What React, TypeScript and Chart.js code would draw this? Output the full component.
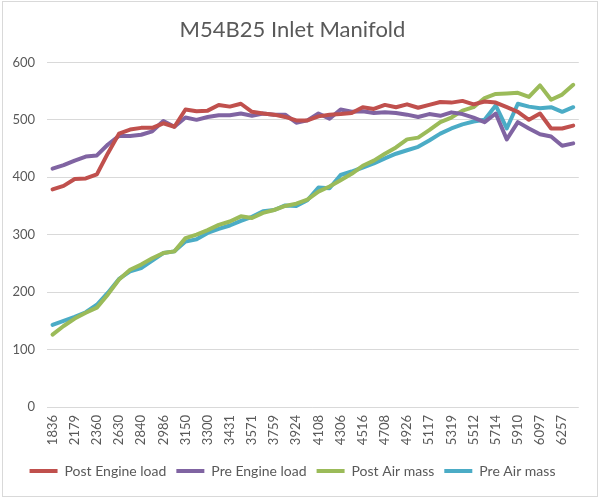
import React, { useEffect, useRef } from 'react';
import { Chart, registerables } from 'chart.js';

Chart.register(...registerables);

// RPM categories (every other one is shown on the axis)
const rpmLabels = [
  '1836', '2010', '2179', '2270', '2360', '2495', '2630', '2735', '2840', '2915',
  '2986', '3068', '3150', '3225', '3300', '3366', '3431', '3500', '3571', '3665',
  '3759', '3840', '3924', '4015', '4108', '4207', '4306', '4411', '4516', '4612',
  '4708', '4817', '4926', '5021', '5117', '5218', '5319', '5415', '5512', '5613',
  '5714', '5812', '5910', '6003', '6097', '6177', '6257', '6330',
];

const postEngineLoad = [
  379, 385, 397, 398, 405, 442, 476, 483, 486, 486,
  494, 488, 518, 515, 516, 526, 523, 528, 514, 511,
  509, 505, 499, 499, 506, 509, 510, 512, 522, 519,
  526, 522, 527, 521, 526, 531, 530, 533, 527, 532,
  530, 522, 514, 500, 511, 485, 485, 490,
];

const preEngineLoad = [
  415, 421, 429, 436, 438, 457, 472, 472, 474, 480,
  498, 488, 504, 500, 505, 508, 508, 511, 507, 511,
  509, 509, 495, 499, 511, 502, 518, 514, 515, 512,
  513, 512, 509, 505, 510, 507, 513, 510, 504, 496,
  511, 466, 496, 485, 475, 471, 455, 459,
];

const postAirMass = [
  126, 141, 154, 164, 173, 196, 222, 239, 248, 259,
  268, 271, 294, 300, 308, 317, 323, 332, 329, 338,
  343, 350, 354, 361, 375, 384, 395, 406, 420, 429,
  441, 452, 466, 469, 482, 496, 504, 516, 522, 538,
  545, 546, 547, 540, 560, 535, 544, 561,
];

const preAirMass = [
  143, 150, 157, 165, 178, 199, 223, 236, 242, 255,
  268, 271, 288, 292, 303, 310, 316, 324, 331, 341,
  343, 351, 350, 360, 382, 381, 404, 410, 417, 424,
  433, 441, 447, 453, 464, 476, 485, 492, 497, 500,
  525, 485, 528, 523, 520, 522, 514, 522,
];

const seriesNames = ['Post Engine load', 'Pre Engine load', 'Post Air mass', 'Pre Air mass'];
const seriesColors = ['#C0504D', '#8064A2', '#9BBB59', '#4BACC6'];

const TEXT = '#595959';
const FONT = 'Lato, "Open Sans", sans-serif';

export default function App() {
  const ref = useRef<HTMLCanvasElement>(null);

  useEffect(() => {
    if (!ref.current) return;
    const values = [postEngineLoad, preEngineLoad, postAirMass, preAirMass];
    const chart = new Chart(ref.current, {
      type: 'line',
      data: {
        labels: rpmLabels,
        datasets: values.map((d, i) => ({
          label: seriesNames[i],
          data: d,
          borderColor: seriesColors[i],
          backgroundColor: seriesColors[i],
          borderWidth: 4,
          borderCapStyle: 'round',
          borderJoinStyle: 'round',
          pointRadius: 0,
          pointHoverRadius: 0,
          tension: 0,
          fill: false,
        })),
      },
      options: {
        animation: false,
        responsive: false,
        layout: { padding: { left: 0, right: 15, top: 0, bottom: 8 } },
        plugins: {
          title: {
            display: true,
            text: 'M54B25 Inlet Manifold',
            color: TEXT,
            font: { family: FONT, size: 22, weight: 'normal' },
            padding: { top: 15, bottom: 19 },
          },
          legend: {
            position: 'bottom',
            labels: {
              usePointStyle: true,
              pointStyle: 'line',
              pointStyleWidth: 28,
              color: TEXT,
              font: { family: FONT, size: 14 },
              padding: 10,
            },
          },
          tooltip: { enabled: false },
        },
        scales: {
          x: {
            offset: true,
            grid: { display: false, drawTicks: false },
            border: { display: false },
            ticks: {
              autoSkip: false,
              minRotation: 90,
              maxRotation: 90,
              padding: 8,
              color: TEXT,
              font: { family: FONT, size: 13 },
              callback: (_v: any, idx: number) => (idx % 2 === 0 ? rpmLabels[idx] : ''),
            },
            afterFit: (s: any) => { s.height = 47; },
          },
          y: {
            min: 0,
            max: 600,
            ticks: { stepSize: 100, padding: 12, color: TEXT, font: { family: FONT, size: 13 } },
            grid: { color: '#D9D9D9', drawTicks: false },
            border: { display: false },
            afterFit: (s: any) => { s.width = 44; },
          },
        },
      },
    } as any);
    return () => chart.destroy();
  }, []);

  return (
    <div style={{ position: 'absolute', left: 0, top: 0, width: 599, height: 497, background: '#fff' }}>
      <div
        style={{
          position: 'absolute',
          left: 2,
          top: 1,
          width: 596,
          height: 496,
          boxSizing: 'border-box',
          border: '1px solid #D9D9D9',
        }}
      >
        <canvas ref={ref} width={594} height={494} style={{ display: 'block' }} />
      </div>
    </div>
  );
}
